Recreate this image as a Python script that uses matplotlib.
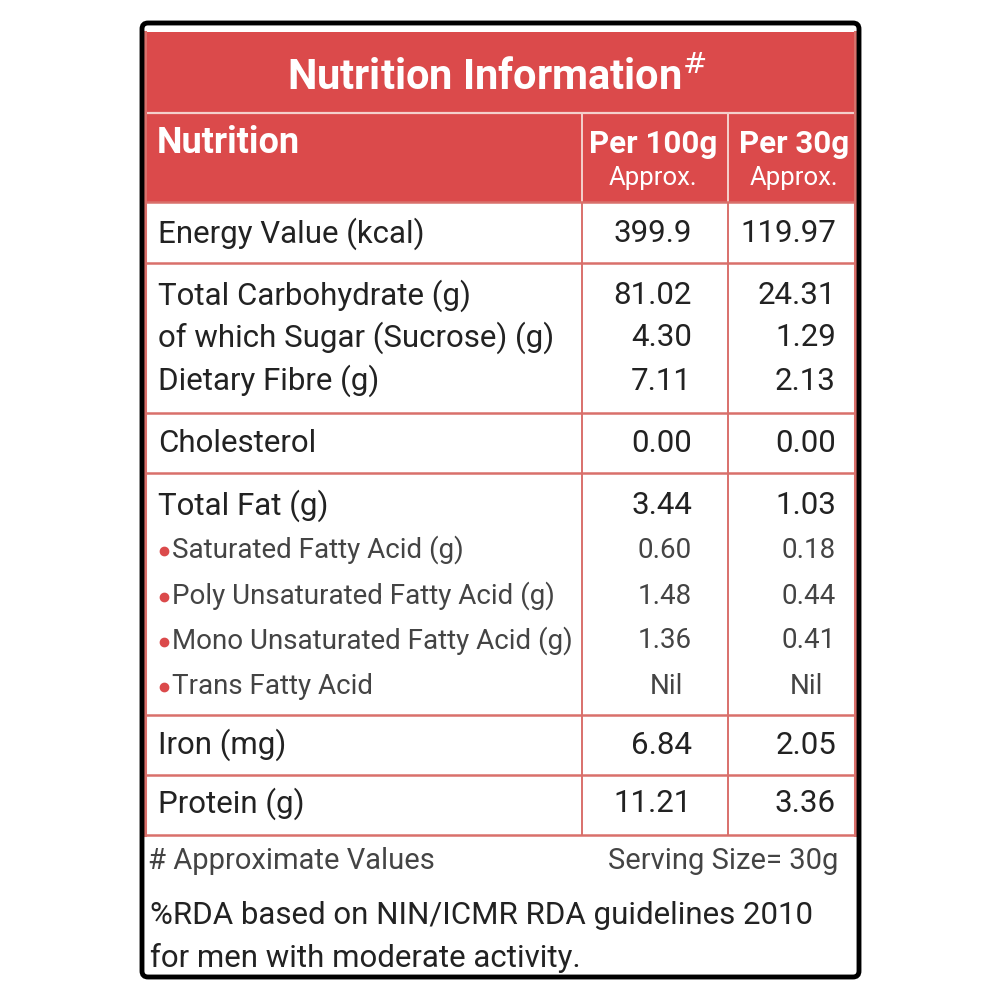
import matplotlib
matplotlib.use("Agg")
import matplotlib.pyplot as plt
from matplotlib.patches import Rectangle, FancyBboxPatch

# ---------------- data ----------------
title = "Nutrition Information"
col_headers = ["Nutrition", "Per 100g", "Per 30g"]
col_sub = ["", "Approx.", "Approx."]

groups = [
    [("Energy Value (kcal)", "399.9", "119.97", 0)],
    [("Total Carbohydrate (g)", "81.02", "24.31", 0),
     ("of which Sugar (Sucrose) (g)", "4.30", "1.29", 0),
     ("Dietary Fibre (g)", "7.11", "2.13", 0)],
    [("Cholesterol", "0.00", "0.00", 0)],
    [("Total Fat (g)", "3.44", "1.03", 0),
     ("Saturated Fatty Acid (g)", "0.60", "0.18", 1),
     ("Poly Unsaturated Fatty Acid (g)", "1.48", "0.44", 1),
     ("Mono Unsaturated Fatty Acid (g)", "1.36", "0.41", 1),
     ("Trans Fatty Acid", "Nil", "Nil", 1)],
    [("Iron (mg)", "6.84", "2.05", 0)],
    [("Protein (g)", "11.21", "3.36", 0)],
]
footnote_left = "# Approximate Values"
footnote_right = "Serving Size= 30g"
rda_lines = ["%RDA based on NIN/ICMR RDA guidelines 2010",
             "for men with moderate activity."]

# ---------------- layout ----------------
RED = "#db4a4b"
LINE = "#d9706b"
TXT = "#222222"
SUB = "#444444"
FONT = "Roboto"

fig = plt.figure(figsize=(10, 10), dpi=100)
ax = fig.add_axes([0, 0, 1, 1])
ax.set_xlim(0, 1000)
ax.set_ylim(1000, 0)
ax.axis("off")

# outer black frame
ax.add_patch(FancyBboxPatch((142, 23), 717, 954, boxstyle="round,pad=0,rounding_size=6",
                            fill=False, ec="black", lw=3.5, zorder=5))

L, R = 145, 855
C1, C2 = 582, 728
head_top, title_bot, head_bot = 32, 113, 202
row_edges = [202, 263, 413, 473, 715, 775, 835]
row_ys = [[234], [296, 338, 381], [443], [506, 550, 596, 641, 686], [745], [804]]

# header fill
ax.add_patch(Rectangle((L, head_top), R - L, head_bot - head_top, fc=RED, ec="none", zorder=1))
ax.plot([L, R], [title_bot, title_bot], color="#f4d0cc", lw=1.6, zorder=2)
for x in (C1, C2):
    ax.plot([x, x], [title_bot, row_edges[-1]], color=LINE, lw=1.4, zorder=2)
    ax.plot([x, x], [title_bot, head_bot], color="#f4d0cc", lw=1.4, zorder=3)

# table frame lines
ax.plot([L, L], [head_top, row_edges[-1]], color=LINE, lw=2.2, zorder=3)
ax.plot([R, R], [head_top, row_edges[-1]], color=LINE, lw=2.2, zorder=3)
for y in row_edges:
    ax.plot([L, R], [y, y], color=LINE, lw=1.8, zorder=3)

# title
ax.text(497, 78, title + r"$^{\#}$", ha="center", va="center", color="white",
        fontsize=30, fontweight="bold", family=FONT, zorder=4)
ax.text(157, 143, col_headers[0], ha="left", va="center", color="white",
        fontsize=26, fontweight="bold", family=FONT, zorder=4)
for cx, h, s in [(653, col_headers[1], col_sub[1]), (794, col_headers[2], col_sub[2])]:
    ax.text(cx, 144, h, ha="center", va="center", color="white",
            fontsize=22.5, fontweight="bold", family=FONT, zorder=4)
    ax.text(cx, 178, s, ha="center", va="center", color="white",
            fontsize=18.5, family=FONT, zorder=4)

# body
for grp, ys in zip(groups, row_ys):
    for (name, v1, v2, lvl), y in zip(grp, ys):
        fs = 22.5 if lvl == 0 else 20
        col = TXT if lvl == 0 else SUB
        if lvl == 0:
            ax.text(158, y, name, ha="left", va="center", fontsize=fs, color=col, family=FONT, zorder=4)
        else:
            ax.plot([164], [y + 1], "o", ms=6, color=RED, zorder=4)
            ax.text(172, y, name, ha="left", va="center", fontsize=fs, color=col, family=FONT, zorder=4)
        for v, xr, xc in [(v1, 692, 666), (v2, 836, 806)]:
            if v == "Nil":
                ax.text(xc, y, v, ha="center", va="center", fontsize=fs, color=col, family=FONT, zorder=4)
            else:
                ax.text(xr, y, v, ha="right", va="center", fontsize=fs, color=col, family=FONT, zorder=4)

# footnotes
ax.text(148, 861, footnote_left, ha="left", va="center", fontsize=21, color=SUB, family=FONT)
ax.text(838, 861, footnote_right, ha="right", va="center", fontsize=21, color=SUB, family=FONT)
for y, t in zip([916, 958], rda_lines):
    ax.text(150, y, t, ha="left", va="center", fontsize=22.5, color=TXT, family=FONT)

fig.savefig("out.png", dpi=100, facecolor="white")
